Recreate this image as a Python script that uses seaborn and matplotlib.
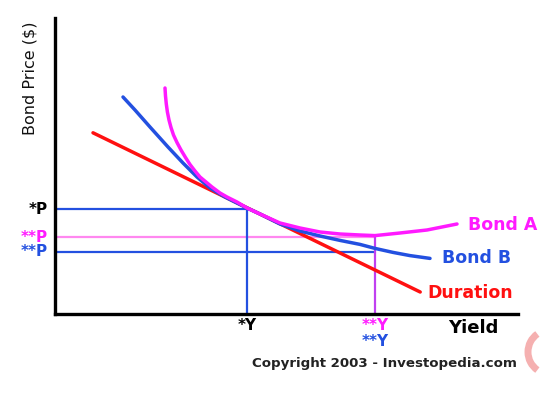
import matplotlib
matplotlib.use("Agg")
import matplotlib.pyplot as plt
import seaborn as sns
import pandas as pd
from matplotlib.patches import Arc

# ---- data (arbitrary units) ----
bond_a_x = [2.75, 2.7625, 2.7825, 2.81, 2.85, 2.9, 2.9625, 3.05, 3.15, 3.2625, 3.375, 3.5,
            3.625, 3.775, 3.925, 4.125, 4.3, 4.55, 4.8, 5.125, 5.625, 6.125, 6.625,
            7.125, 7.625, 8.0, 8.625, 9.3, 10.05]
bond_a_y = [5.65, 5.45, 5.25, 5.05, 4.85, 4.6625, 4.475, 4.2875, 4.1, 3.9125, 3.7375, 3.575,
            3.425, 3.3, 3.175, 3.025, 2.925, 2.8, 2.65, 2.5, 2.275, 2.15, 2.05,
            2.0, 1.975, 1.96, 2.025, 2.1, 2.25]

bond_b_x = [1.7, 2.0, 2.375, 2.825, 3.2, 3.55, 3.875, 4.25, 4.55, 4.8, 5.125, 5.625,
            6.125, 6.625, 7.125, 7.625, 8.0, 8.45, 8.875, 9.375]
bond_b_y = [5.425, 5.1, 4.675, 4.175, 3.775, 3.425, 3.15, 2.925, 2.775, 2.65, 2.5, 2.25,
            2.075, 1.95, 1.84, 1.74, 1.64, 1.54, 1.46, 1.39]

duration_x = [0.95, 9.13]
duration_y = [4.53, 0.55]

p_star = 2.625       # *P
p_a = 1.925          # **P (Bond A)
p_b = 1.55           # **P (Bond B)
y_star = 4.8         # *Y
y_2star = 8.0        # **Y

curve_labels = ["Bond A", "Bond B", "Duration"]

MAGENTA = "#ff1aff"
BLUE = "#2350e0"
RED = "#ff1010"
PINK = "#ff88f0"

sns.set_style("white")
plt.rcParams["font.family"] = ["DejaVu Sans"]

fig = plt.figure(figsize=(5.44, 3.98), dpi=100)
ax = fig.add_axes([55 / 544, (398 - 314) / 398, 463 / 544, 296 / 398])

# reference lines
ax.plot([0, y_star], [p_star, p_star], color=BLUE, lw=1.6, zorder=2)
ax.plot([0, y_2star], [p_a, p_a], color=PINK, lw=1.6, zorder=2)
ax.plot([0, y_2star], [p_b, p_b], color=BLUE, lw=1.6, zorder=2)
ax.plot([y_star, y_star], [0, p_star], color=BLUE, lw=1.6, zorder=2)
ax.plot([y_2star, y_2star], [0, 1.96], color="#c040f0", lw=1.6, zorder=2)

# curves
df_a = pd.DataFrame({"x": bond_a_x, "y": bond_a_y})
df_b = pd.DataFrame({"x": bond_b_x, "y": bond_b_y})
df_d = pd.DataFrame({"x": duration_x, "y": duration_y})
sns.lineplot(data=df_d, x="x", y="y", sort=False, estimator=None, color=RED, lw=2.5, ax=ax, zorder=3)
sns.lineplot(data=df_b, x="x", y="y", sort=False, estimator=None, color=BLUE, lw=2.5, ax=ax, zorder=4)
sns.lineplot(data=df_a, x="x", y="y", sort=False, estimator=None, color=MAGENTA, lw=2.5, ax=ax, zorder=5)

ax.set_xlim(0, 11.575)
ax.set_ylim(0, 7.4)
ax.set_xticks([])
ax.set_yticks([])
ax.set_xlabel("")
ax.set_ylabel("")
for s in ["top", "right"]:
    ax.spines[s].set_visible(False)
for s in ["left", "bottom"]:
    ax.spines[s].set_color("black")
    ax.spines[s].set_linewidth(2.4)

# curve labels
ax.text(10.33, 2.23, curve_labels[0], color=MAGENTA, fontsize=12.5, fontweight="bold", va="center", ha="left")
ax.text(9.68, 1.4, curve_labels[1], color=BLUE, fontsize=12.5, fontweight="bold", va="center", ha="left")
ax.text(9.3, 0.53, curve_labels[2], color=RED, fontsize=12.5, fontweight="bold", va="center", ha="left")

# axis annotations
ax.text(-0.18, p_star, "*P", color="black", fontsize=11, fontweight="bold", va="center", ha="right")
ax.text(-0.18, p_a, "**P", color=MAGENTA, fontsize=11, fontweight="bold", va="center", ha="right")
ax.text(-0.18, p_b, "**P", color=BLUE, fontsize=11, fontweight="bold", va="center", ha="right")
ax.text(y_star, -0.3, "*Y", color="black", fontsize=11, fontweight="bold", va="center", ha="center")
ax.text(y_2star, -0.3, "**Y", color=MAGENTA, fontsize=11, fontweight="bold", va="center", ha="center")
ax.text(y_2star, -0.68, "**Y", color=BLUE, fontsize=11, fontweight="bold", va="center", ha="center")
ax.text(10.45, -0.35, "Yield", color="black", fontsize=13, fontweight="bold", va="center", ha="center")

fig.text(30 / 544, 1 - 78 / 398, "Bond Price ($)", rotation=90, fontsize=11.5,
         va="center", ha="center", color="#111111")
fig.text(384 / 544, 1 - 363 / 398, "Copyright 2003 - Investopedia.com", fontsize=9.6,
         fontweight="bold", va="center", ha="center", color="#222222")

# faint logo arc at the right edge
logo_ax = fig.add_axes([0, 0, 1, 1], facecolor="none")
logo_ax.set_xlim(0, 544)
logo_ax.set_ylim(398, 0)
logo_ax.axis("off")
logo_ax.add_patch(Arc((550, 352), 44, 44, theta1=125, theta2=235, color="#f5b0b0", lw=5))

fig.savefig("out.png", dpi=100)
